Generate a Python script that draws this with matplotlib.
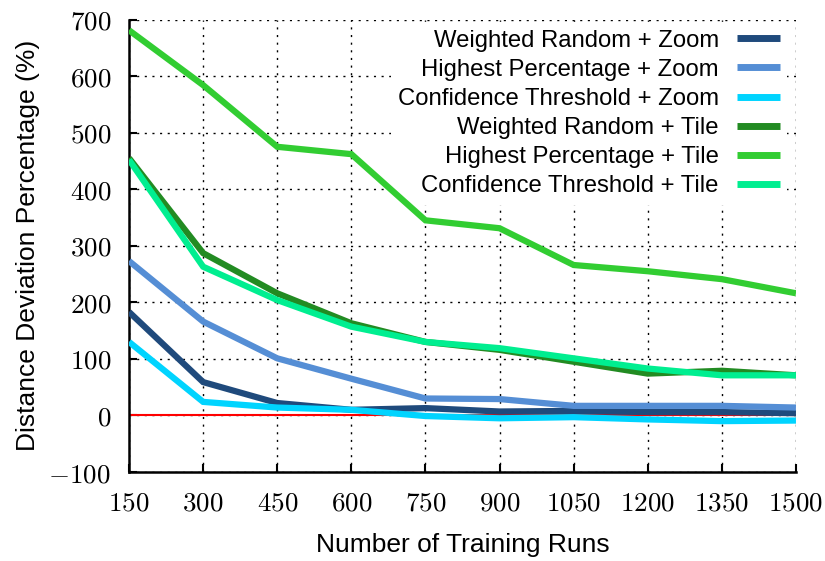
import matplotlib
matplotlib.use("Agg")
import matplotlib.pyplot as plt

runs = [150, 300, 450, 600, 750, 900, 1050, 1200, 1350, 1500]

wr_zoom = [183, 59, 22, 10, 13, 7, 8, 6, 6, 4]
hp_zoom = [273, 166, 101, 65, 30, 29, 17, 17, 17, 14]
ct_zoom = [130, 24, 14, 10, -1, -5, -3, -7, -10, -9]
wr_tile = [455, 287, 216, 163, 130, 116, 95, 74, 79, 71]
hp_tile = [681, 584, 475, 462, 345, 331, 266, 255, 241, 216]
ct_tile = [452, 263, 204, 157, 130, 119, 101, 83, 71, 71]

labels = ["Weighted Random + Zoom", "Highest Percentage + Zoom",
          "Confidence Threshold + Zoom", "Weighted Random + Tile",
          "Highest Percentage + Tile", "Confidence Threshold + Tile"]
colors = ["#1f4a7c", "#558ed5", "#00d4ff", "#228b22", "#32cd32", "#00ee90"]
series = [wr_zoom, hp_zoom, ct_zoom, wr_tile, hp_tile, ct_tile]

plt.rcParams["font.family"] = ["Liberation Sans", "DejaVu Sans"]
plt.rcParams["mathtext.fontset"] = "cm"

fig = plt.figure(figsize=(8.25, 5.61), dpi=100)
ax = fig.add_axes([0.1564, 0.1586, 0.8084, 0.8066])

ax.plot(runs, [0] * len(runs), color="red", lw=1.5, zorder=2)
for vals, lab, col in zip(series, labels, colors):
    ax.plot(runs, vals, color=col, lw=4.5, label=lab, zorder=3,
            solid_capstyle="butt", solid_joinstyle="miter")

ax.set_xlim(150, 1500)
ax.set_ylim(-100, 700)
ax.set_xticks(runs)
ax.set_xticklabels([f"${r}$" for r in runs])
yt = list(range(-100, 701, 100))
ax.set_yticks(yt)
ax.set_yticklabels([f"${v}$" for v in yt])
ax.tick_params(direction="in", length=6, width=1.5, labelsize=19.5)
ax.tick_params(axis="x", pad=13)
ax.tick_params(axis="y", pad=13)

ax.grid(True, color="black", linestyle=(0, (1.5, 4)), lw=1.0, zorder=1)
for s in ["top", "right"]:
    ax.spines[s].set_visible(False)
for s in ["left", "bottom"]:
    ax.spines[s].set_linewidth(1.8)

ax.set_xlabel("Number of Training Runs", fontsize=19, labelpad=12)
ax.set_ylabel("Distance Deviation Percentage (%)", fontsize=19, labelpad=6)

# legend sits over the grid but under the data lines
leg = ax.legend(loc="upper right", bbox_to_anchor=(0.99, 0.999),
                markerfirst=False, fontsize=17.2,
                frameon=True, facecolor="white", edgecolor="none",
                framealpha=1, handlelength=1.8, labelspacing=0.30,
                borderaxespad=0.1, handletextpad=0.75, borderpad=0.3)
leg.set_zorder(2.5)
for line in leg.get_lines():
    line.set_linewidth(5)

fig.savefig("out.png", dpi=100)
